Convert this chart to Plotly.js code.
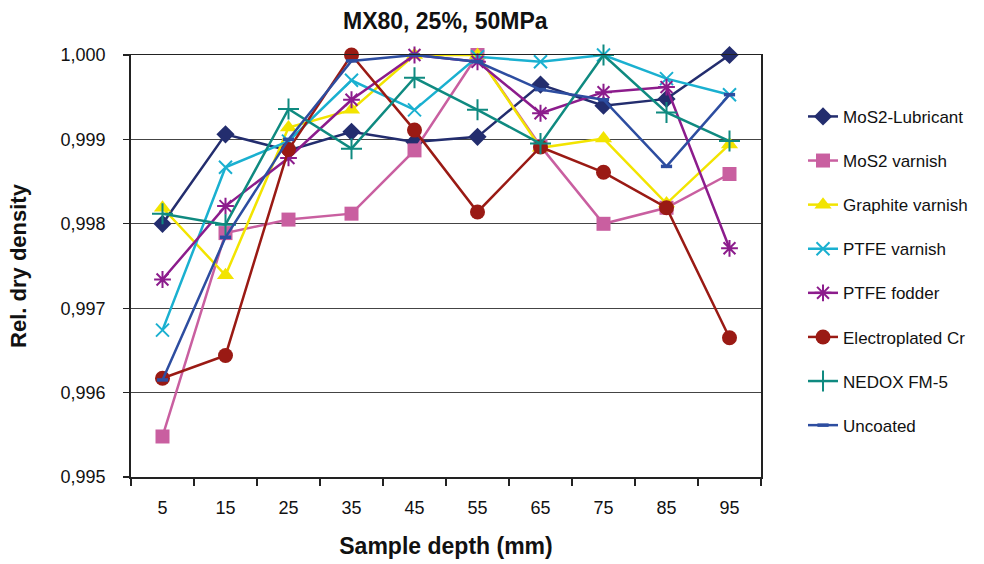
<!DOCTYPE html>
<html>
<head>
<meta charset="utf-8">
<script src="https://cdn.plot.ly/plotly-3.0.1.min.js"></script>
<style>html,body{margin:0;padding:0;background:#fff;}#chart{width:984px;height:564px;}</style>
</head>
<body>
<div id="chart"></div>
<script>
const depth = ['5','15','25','35','45','55','65','75','85','95'];
const seriesNames = ['MoS2-Lubricant','MoS2 varnish','Graphite varnish','PTFE varnish','PTFE fodder','Electroplated Cr','NEDOX FM-5','Uncoated'];
const mos2Lubricant = [0.99800, 0.99906, 0.99887, 0.99909, 0.99897, 0.99903, 0.99965, 0.99940, 0.99948, 1.00000];
const mos2Varnish   = [0.99548, 0.99789, 0.99805, 0.99812, 0.99887, 1.00000, 0.99892, 0.99800, 0.99819, 0.99859];
const graphiteVarnish = [0.99819, 0.99739, 0.99914, 0.99935, 1.00000, 1.00000, 0.99890, 0.99901, 0.99824, 0.99894];
const ptfeVarnish   = [0.99674, 0.99867, 0.99898, 0.99970, 0.99935, 0.99998, 0.99992, 1.00000, 0.99972, 0.99953];
const ptfeFodder    = [0.99734, 0.99821, 0.99878, 0.99947, 1.00000, 0.99992, 0.99931, 0.99956, 0.99962, 0.99771];
const electroCr     = [0.99617, 0.99644, 0.99888, 1.00000, 0.99911, 0.99814, 0.99891, 0.99861, 0.99819, 0.99665];
const nedox         = [0.99812, 0.99799, 0.99936, 0.99889, 0.99973, 0.99935, 0.99895, 1.00000, 0.99932, 0.99898];
const uncoated      = [0.99615, 0.99784, 0.99900, 0.99993, 1.00000, 0.99992, 0.99959, 0.99947, 0.99868, 0.99953];

const values = [mos2Lubricant, mos2Varnish, graphiteVarnish, ptfeVarnish, ptfeFodder, electroCr, nedox, uncoated];
const colors = ['#232D6E','#C95FA0','#F2E400','#1AB0D0','#8C1C8C','#9A1A14','#0F8A80','#2D4DA0'];
const symbols = ['diamond','square','triangle-up','x-thin-open','asterisk-open','circle','cross-thin-open','line-ew-open'];
const sizes = [14, 14, 15, 13, 14, 15, 15, 8];
const mlw = [0, 0, 0, 2, 2, 0, 2, 3.5];

const traces = seriesNames.map((n, i) => ({
  type: 'scatter', mode: 'lines+markers', name: n, legendgroup: 'g' + i,
  x: depth, y: values[i], cliponaxis: false,
  line: {color: colors[i], width: 2.5},
  marker: {symbol: symbols[i], size: sizes[i], color: colors[i], line: {color: colors[i], width: mlw[i]}}
}));

const layout = {
  width: 984, height: 564,
  margin: {l: 131, r: 222, t: 55, b: 87},
  paper_bgcolor: '#fff', plot_bgcolor: '#fff',
  separators: ',.',
  font: {family: 'Liberation Sans, Arial, sans-serif', color: '#111'},
  title: {text: '<b>MX80, 25%, 50MPa</b>', font: {size: 23, color: '#111'}, x: 0.4525, xref: 'container', xanchor: 'center', y: 0.963, yref: 'container', yanchor: 'middle'},
  xaxis: {
    type: 'category', range: [-0.5, 9.5], autorange: false,
    tickson: 'boundaries', ticks: 'outside', ticklen: 7, tickcolor: '#222', tickwidth: 1.2,
    showline: true, linecolor: '#222', linewidth: 1.5, mirror: true, showgrid: false,
    tickfont: {size: 18, color: '#111'}, ticklabelstandoff: 14,
    title: {text: '<b>Sample depth (mm)</b>', font: {size: 23, color: '#111'}, standoff: 21}
  },
  yaxis: {
    range: [0.995, 1.000], autorange: false, dtick: 0.001, tick0: 0.995, tickformat: '.3f',
    ticks: 'outside', ticklen: 6, tickcolor: '#222', tickwidth: 1.2,
    showline: true, linecolor: '#222', linewidth: 1.8, mirror: true,
    showgrid: true, gridcolor: '#444', gridwidth: 1.2, zeroline: false,
    tickfont: {size: 18, color: '#111'}, ticklabelstandoff: 14,
    title: {text: '<b>Rel. dry density</b>', font: {size: 22, color: '#111'}, standoff: 28}
  },
  legend: {
    x: 1.065, xanchor: 'left', y: 0.896, yanchor: 'top',
    font: {size: 17, color: '#111'}, tracegroupgap: 19, bgcolor: 'rgba(0,0,0,0)'
  },
  showlegend: true
};

Plotly.newPlot('chart', traces, layout, {displayModeBar: false, staticPlot: true});
</script>
</body>
</html>
